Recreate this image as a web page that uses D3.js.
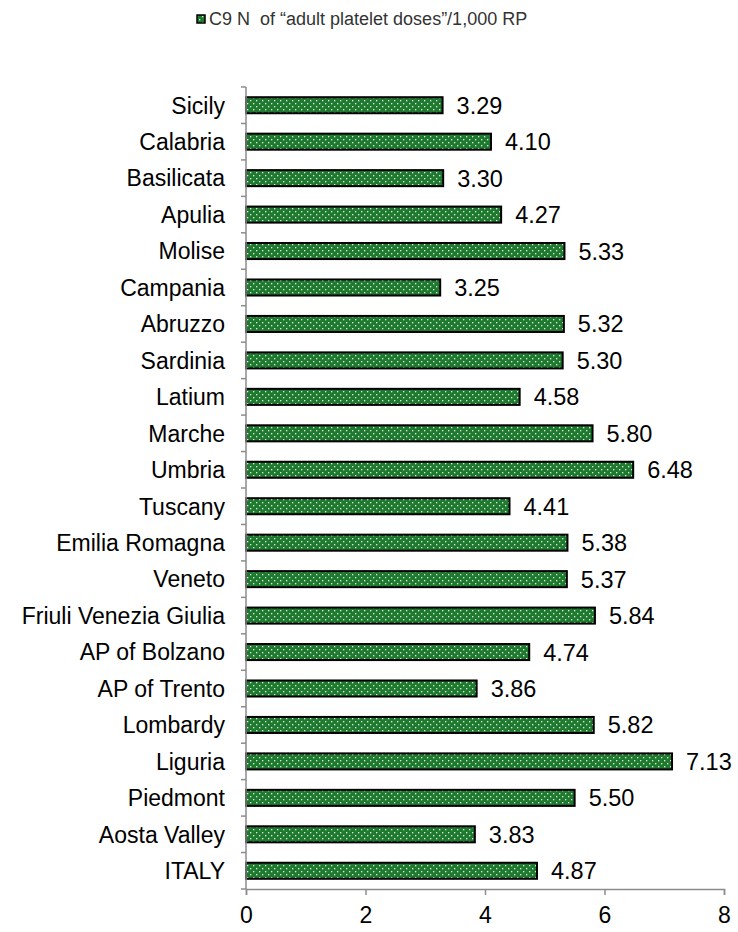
<!DOCTYPE html>
<html>
<head>
<meta charset="utf-8">
<script src="https://cdn.jsdelivr.net/npm/d3@7"></script>
<style>
  html, body { margin: 0; padding: 0; background: #fff; }
  svg { display: block; font-family: "Liberation Sans", Arial, sans-serif; }
</style>
</head>
<body>
<svg id="chart" width="738" height="932"></svg>
<script>
// Regions listed top to bottom as drawn
const regions = ["Sicily", "Calabria", "Basilicata", "Apulia", "Molise", "Campania",
  "Abruzzo", "Sardinia", "Latium", "Marche", "Umbria", "Tuscany", "Emilia Romagna",
  "Veneto", "Friuli Venezia Giulia", "AP of Bolzano", "AP of Trento", "Lombardy",
  "Liguria", "Piedmont", "Aosta Valley", "ITALY"];
const doses = [3.29, 4.10, 3.30, 4.27, 5.33, 3.25, 5.32, 5.30, 4.58, 5.80, 6.48, 4.41,
  5.38, 5.37, 5.84, 4.74, 3.86, 5.82, 7.13, 5.50, 3.83, 4.87];
const xTicks = [0, 2, 4, 6, 8];
const legendLabel = "C9 N  of \u201cadult platelet doses\u201d/1,000 RP";

const svg = d3.select("#chart");
const margin = { left: 246, right: 14, top: 87, bottom: 43 };
const W = 738, H = 932;

const x = d3.scaleLinear().domain([0, 8]).range([margin.left, 724]);
const y = d3.scaleBand().domain(regions).range([margin.top, H - margin.bottom]).paddingInner(0.56).paddingOuter(0.28);

// Dotted green fill
const defs = svg.append("defs");
const pat = defs.append("pattern").attr("id", "dots").attr("patternUnits", "userSpaceOnUse")
  .attr("width", 6).attr("height", 6);
pat.append("rect").attr("width", 6).attr("height", 6).attr("fill", "#1e7a2e");
pat.append("rect").attr("x", 1).attr("y", 1).attr("width", 1.3).attr("height", 1.3).attr("fill", "#e6f2e6");
pat.append("rect").attr("x", 4).attr("y", 4).attr("width", 1.3).attr("height", 1.3).attr("fill", "#e6f2e6");

// Bars
svg.append("g").selectAll("rect").data(regions).join("rect")
  .attr("x", x(0))
  .attr("y", d => y(d))
  .attr("width", (d, i) => x(doses[i]) - x(0))
  .attr("height", y.bandwidth())
  .attr("fill", "url(#dots)")
  .attr("stroke", "#000")
  .attr("stroke-width", 2);

// Value labels
svg.append("g").selectAll("text").data(regions).join("text")
  .attr("x", (d, i) => x(doses[i]) + 14)
  .attr("y", d => y(d) + y.bandwidth() / 2)
  .attr("dy", "0.36em")
  .attr("font-size", 23.5)
  .attr("fill", "#000")
  .text((d, i) => doses[i].toFixed(2));

// Category axis with ticks between bands
const yAxis = svg.append("g");
yAxis.append("line").attr("x1", x(0)).attr("x2", x(0))
  .attr("y1", margin.top).attr("y2", H - margin.bottom)
  .attr("stroke", "#8c8c8c").attr("stroke-width", 1.5);
const bounds = d3.range(regions.length + 1).map(i => margin.top + i * (H - margin.top - margin.bottom) / regions.length);
yAxis.selectAll("line.tk").data(bounds).join("line").attr("class", "tk")
  .attr("x1", x(0) - 5).attr("x2", x(0))
  .attr("y1", d => d).attr("y2", d => d)
  .attr("stroke", "#8c8c8c").attr("stroke-width", 1.5);
yAxis.selectAll("text").data(regions).join("text")
  .attr("x", 225)
  .attr("y", d => y(d) + y.bandwidth() / 2)
  .attr("dy", "0.36em")
  .attr("text-anchor", "end")
  .attr("font-size", 23)
  .attr("fill", "#000")
  .text(d => d);

// Value axis
const xAxis = svg.append("g").attr("transform", `translate(0,${H - margin.bottom})`)
  .call(d3.axisBottom(x).tickValues(xTicks).tickSize(6).tickPadding(12).tickFormat(d3.format("d")));
xAxis.select(".domain").attr("stroke", "#8c8c8c").attr("stroke-width", 1.5);
xAxis.selectAll(".tick line").attr("stroke", "#8c8c8c").attr("stroke-width", 1.5);
xAxis.selectAll(".tick text").attr("font-size", 23).attr("fill", "#000")
  .attr("font-family", "'Liberation Sans', Arial, sans-serif");

// Legend
const lg = svg.append("g");
lg.append("rect").attr("x", 197).attr("y", 15).attr("width", 8).attr("height", 8)
  .attr("fill", "url(#dots)").attr("stroke", "#000").attr("stroke-width", 1.5);
lg.append("text").attr("x", 209).attr("y", 19).attr("dy", "0.36em")
  .attr("font-size", 18).attr("fill", "#333").attr("xml:space", "preserve")
  .text(legendLabel);
</script>
</body>
</html>
